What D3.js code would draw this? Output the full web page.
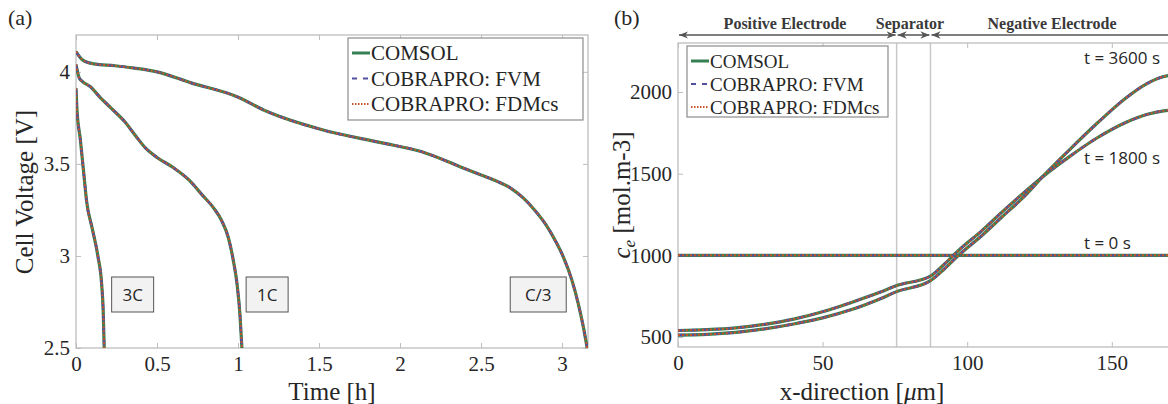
<!DOCTYPE html>
<html>
<head>
<meta charset="utf-8">
<script src="https://cdn.jsdelivr.net/npm/d3@7"></script>
<style>
  body { margin: 0; background: #fff; }
  .tick line { stroke: #bdbdbd; }
</style>
</head>
<body>
<div id="chart"></div>
<script>
const SERIF = "'Liberation Serif', 'DejaVu Serif', serif";
const SANS = "'Open Sans', 'Noto Sans', sans-serif";

// ---- panel (a): cell voltage vs time ----
const timeC3 = [0, 0.04, 0.11, 0.24, 0.36, 0.5, 0.71, 0.99, 1.18, 1.52, 1.89, 2.13, 2.37, 2.5, 2.6, 2.68, 2.76, 2.83, 2.9, 2.96, 3.01, 3.06, 3.1, 3.13, 3.155];
const voltC3 = [4.11, 4.065, 4.043, 4.033, 4.02, 4.0, 3.94, 3.866, 3.784, 3.685, 3.614, 3.567, 3.485, 3.44, 3.405, 3.37, 3.315, 3.25, 3.17, 3.08, 2.99, 2.87, 2.74, 2.62, 2.5];
const time1C = [0, 0.02, 0.04, 0.087, 0.15, 0.22, 0.3, 0.37, 0.43, 0.5, 0.6, 0.7, 0.78, 0.85, 0.9, 0.94, 0.97, 0.995, 1.012, 1.024];
const volt1C = [4.04, 3.967, 3.947, 3.92, 3.86, 3.80, 3.73, 3.65, 3.585, 3.535, 3.48, 3.41, 3.33, 3.26, 3.19, 3.1, 2.98, 2.84, 2.68, 2.5];
const time3C = [0, 0.005, 0.027, 0.05, 0.065, 0.1, 0.135, 0.158, 0.168, 0.174];
const volt3C = [3.91, 3.81, 3.63, 3.43, 3.3, 3.15, 3.0, 2.85, 2.7, 2.5];
const rateLabels = ["3C", "1C", "C/3"];
const rateLabelTime = [0.22, 1.05, 2.68];
const xTicksA = [0, 0.5, 1, 1.5, 2, 2.5, 3];
const yTicksA = [2.5, 3, 3.5, 4];

// ---- panel (b): electrolyte concentration vs x ----
const xPos = [0, 10, 20, 30, 40, 50, 60, 70, 75.6, 87.3, 92, 97, 105, 112, 120, 126, 135, 145, 155, 162, 168, 175];
const ce0 = xPos.map(() => 1000);
const ce1800 = [540, 545, 556, 578, 610, 655, 712, 775, 815, 873, 945, 1030, 1150, 1265, 1390, 1480, 1600, 1720, 1815, 1862, 1885, 1893];
const ce3600 = [512, 516, 528, 550, 580, 617, 668, 735, 778, 845, 915, 1000, 1120, 1235, 1365, 1480, 1640, 1810, 1965, 2050, 2095, 2112];
const timeLabels = ["t = 0 s", "t = 1800 s", "t = 3600 s"];
const regionNames = ["Positive Electrode", "Separator", "Negative Electrode"];
const regionBounds = [0, 75.6, 87.3, 175];
const xTicksB = [0, 50, 100, 150];
const yTicksB = [500, 1000, 1500, 2000];

const seriesNames = ["COMSOL", "COBRAPRO: FVM", "COBRAPRO: FDMcs"];
const seriesStyle = [
  { color: "#357f52", width: 3.2, dash: null },
  { color: "#52509e", width: 2.4, dash: "7,5" },
  { color: "#c8552a", width: 2.0, dash: "2,2" }
];

const svg = d3.select("#chart").append("svg")
  .attr("width", 1168)
  .attr("height", 404)
  .attr("font-family", SERIF);

const defs = svg.append("defs");
defs.append("marker")
  .attr("id", "arr")
  .attr("viewBox", "0 0 10 10")
  .attr("refX", 10).attr("refY", 5)
  .attr("markerWidth", 7).attr("markerHeight", 7)
  .attr("orient", "auto-start-reverse")
  .append("path")
  .attr("d", "M0,1 L10,5 L0,9 L3,5 Z")
  .attr("fill", "#555");

function drawFrame (g, x, y, xt, yt) {
  const [x0, x1] = x.range();
  const [y0, y1] = y.range();
  const fmt = d3.format("");
  g.append("g")
    .attr("transform", `translate(0,${y0})`)
    .call(d3.axisBottom(x).tickValues(xt).tickSize(-5).tickPadding(8).tickFormat(fmt))
    .call(a => a.select(".domain").remove())
    .selectAll("text").attr("font-size", 21).attr("font-family", SERIF).attr("fill", "#262626");
  g.append("g")
    .attr("transform", `translate(0,${y1})`)
    .call(d3.axisTop(x).tickValues(xt).tickSize(-5).tickFormat(""))
    .call(a => a.select(".domain").remove());
  g.append("g")
    .attr("transform", `translate(${x0},0)`)
    .call(d3.axisLeft(y).tickValues(yt).tickSize(-5).tickPadding(6).tickFormat(fmt))
    .call(a => a.select(".domain").remove())
    .selectAll("text").attr("font-size", 21).attr("font-family", SERIF).attr("fill", "#262626");
  g.append("g")
    .attr("transform", `translate(${x1},0)`)
    .call(d3.axisRight(y).tickValues(yt).tickSize(-5).tickFormat(""))
    .call(a => a.select(".domain").remove());
  g.append("rect")
    .attr("x", x0).attr("y", y1)
    .attr("width", x1 - x0).attr("height", y0 - y1)
    .attr("fill", "none").attr("stroke", "#bdbdbd").attr("stroke-width", 1.3);
}

function drawCurve (g, x, y, xs, ys) {
  const line = d3.line().x((d, i) => x(xs[i])).y(d => y(d)).curve(d3.curveMonotoneX);
  seriesStyle.forEach(s => {
    g.append("path")
      .attr("d", line(ys))
      .attr("fill", "none")
      .attr("stroke", s.color)
      .attr("stroke-width", s.width)
      .attr("stroke-dasharray", s.dash);
  });
}

function drawLegend (g, x0, y0, w, h, fs, step) {
  g.append("rect")
    .attr("x", x0).attr("y", y0).attr("width", w).attr("height", h)
    .attr("fill", "#fff").attr("stroke", "#8c8c8c").attr("stroke-width", 1.2);
  seriesNames.forEach((name, i) => {
    const yy = y0 + 15 + i * step;
    const s = seriesStyle[i];
    g.append("line")
      .attr("x1", x0 + 4).attr("x2", x0 + 22)
      .attr("y1", yy).attr("y2", yy)
      .attr("stroke", s.color).attr("stroke-width", i === 0 ? 3 : 2)
      .attr("stroke-dasharray", i === 1 ? "5,6" : (i === 2 ? "1.5,1.5" : null));
    g.append("text")
      .attr("x", x0 + 23).attr("y", yy + 7)
      .attr("font-size", fs).attr("font-family", SERIF).attr("fill", "#262626")
      .text(name);
  });
}

// ================= panel (a) =================
const xA = d3.scaleLinear().domain([0, 3.16]).range([76, 588]);
const yA = d3.scaleLinear().domain([2.5, 4.2]).range([348, 35]);
const gA = svg.append("g");

drawFrame(gA, xA, yA, xTicksA, yTicksA);

defs.append("clipPath").attr("id", "clipA")
  .append("rect").attr("x", 76).attr("y", 35).attr("width", 512).attr("height", 313);
const plotA = gA.append("g").attr("clip-path", "url(#clipA)");
drawCurve(plotA, xA, yA, timeC3, voltC3);
drawCurve(plotA, xA, yA, time1C, volt1C);
drawCurve(plotA, xA, yA, time3C, volt3C);

drawLegend(gA, 348, 38, 235, 82, 21, 25.5);

rateLabels.forEach((lab, i) => {
  const bw = lab.length > 2 ? 56 : 42;
  const bx = xA(rateLabelTime[i]);
  gA.append("rect")
    .attr("x", bx).attr("y", 277).attr("width", bw).attr("height", 35)
    .attr("fill", "#f2f2f2").attr("stroke", "#555").attr("stroke-width", 1);
  gA.append("text")
    .attr("font-family", SANS).attr("fill", "#262626")
    .attr("x", bx + bw / 2).attr("y", 301)
    .attr("text-anchor", "middle").attr("font-size", 17)
    .text(lab);
});

gA.append("text").attr("x", 8).attr("y", 25).attr("font-size", 22).attr("fill", "#262626").text("(a)");
gA.append("text")
  .attr("transform", "translate(33,192) rotate(-90)")
  .attr("text-anchor", "middle").attr("font-size", 25).attr("fill", "#262626")
  .text("Cell Voltage [V]");
gA.append("text")
  .attr("x", 332).attr("y", 400)
  .attr("text-anchor", "middle").attr("font-size", 25).attr("fill", "#262626")
  .text("Time [h]");

// ================= panel (b) =================
const xB = d3.scaleLinear().domain([0, 175]).range([678, 678 + 175 * 2.892]);
const yB = d3.scaleLinear().domain([439, 2300]).range([347, 43]);
const gB = svg.append("g");

// separator boundaries
[regionBounds[1], regionBounds[2]].forEach(v => {
  gB.append("line")
    .attr("x1", xB(v)).attr("x2", xB(v))
    .attr("y1", yB.range()[1]).attr("y2", yB.range()[0])
    .attr("stroke", "#c8c8c8").attr("stroke-width", 1.5);
});

drawFrame(gB, xB, yB, xTicksB, yTicksB);

defs.append("clipPath").attr("id", "clipB")
  .append("rect").attr("x", 678).attr("y", 43).attr("width", 520).attr("height", 304);
const plotB = gB.append("g").attr("clip-path", "url(#clipB)");
drawCurve(plotB, xB, yB, xPos, ce0);
drawCurve(plotB, xB, yB, xPos, ce1800);
drawCurve(plotB, xB, yB, xPos, ce3600);

drawLegend(gB, 687, 46, 201, 71, 19, 23);

const labelY = [243, 158, 58];
timeLabels.forEach((lab, i) => {
  gB.append("text")
    .attr("font-family", SANS).attr("fill", "#262626")
    .attr("x", 1084).attr("y", labelY[i] + 6)
    .attr("font-size", 17)
    .text(lab);
});

// region arrows and names above the plot
regionNames.forEach((name, i) => {
  const a = xB(regionBounds[i]) + 1, b = xB(regionBounds[i + 1]) - 1;
  gB.append("line")
    .attr("x1", a).attr("x2", b).attr("y1", 35).attr("y2", 35)
    .attr("stroke", "#555").attr("stroke-width", 1.3)
    .attr("marker-start", "url(#arr)").attr("marker-end", "url(#arr)");
});
const regionLabelX = [785, 910, 1052];
regionNames.forEach((name, i) => {
  gB.append("text")
    .attr("x", regionLabelX[i]).attr("y", 29)
    .attr("text-anchor", "middle").attr("font-size", 16).attr("font-weight", "bold")
    .attr("fill", "#3a3a3a")
    .text(name);
});

gB.append("text").attr("x", 614).attr("y", 25).attr("font-size", 22).attr("fill", "#262626").text("(b)");
const yl = gB.append("text")
  .attr("transform", "translate(630,195) rotate(-90)")
  .attr("text-anchor", "middle").attr("font-size", 25).attr("fill", "#262626");
yl.append("tspan").attr("font-style", "italic").text("c");
yl.append("tspan").attr("font-style", "italic").attr("font-size", 17).attr("dy", 5).text("e");
yl.append("tspan").attr("dy", -5).text(" [mol.m-3]");
const xl = gB.append("text")
  .attr("x", 862).attr("y", 400)
  .attr("text-anchor", "middle").attr("font-size", 25).attr("fill", "#262626");
xl.append("tspan").text("x-direction [");
xl.append("tspan").attr("font-style", "italic").text("μ");
xl.append("tspan").text("m]");
</script>
</body>
</html>
